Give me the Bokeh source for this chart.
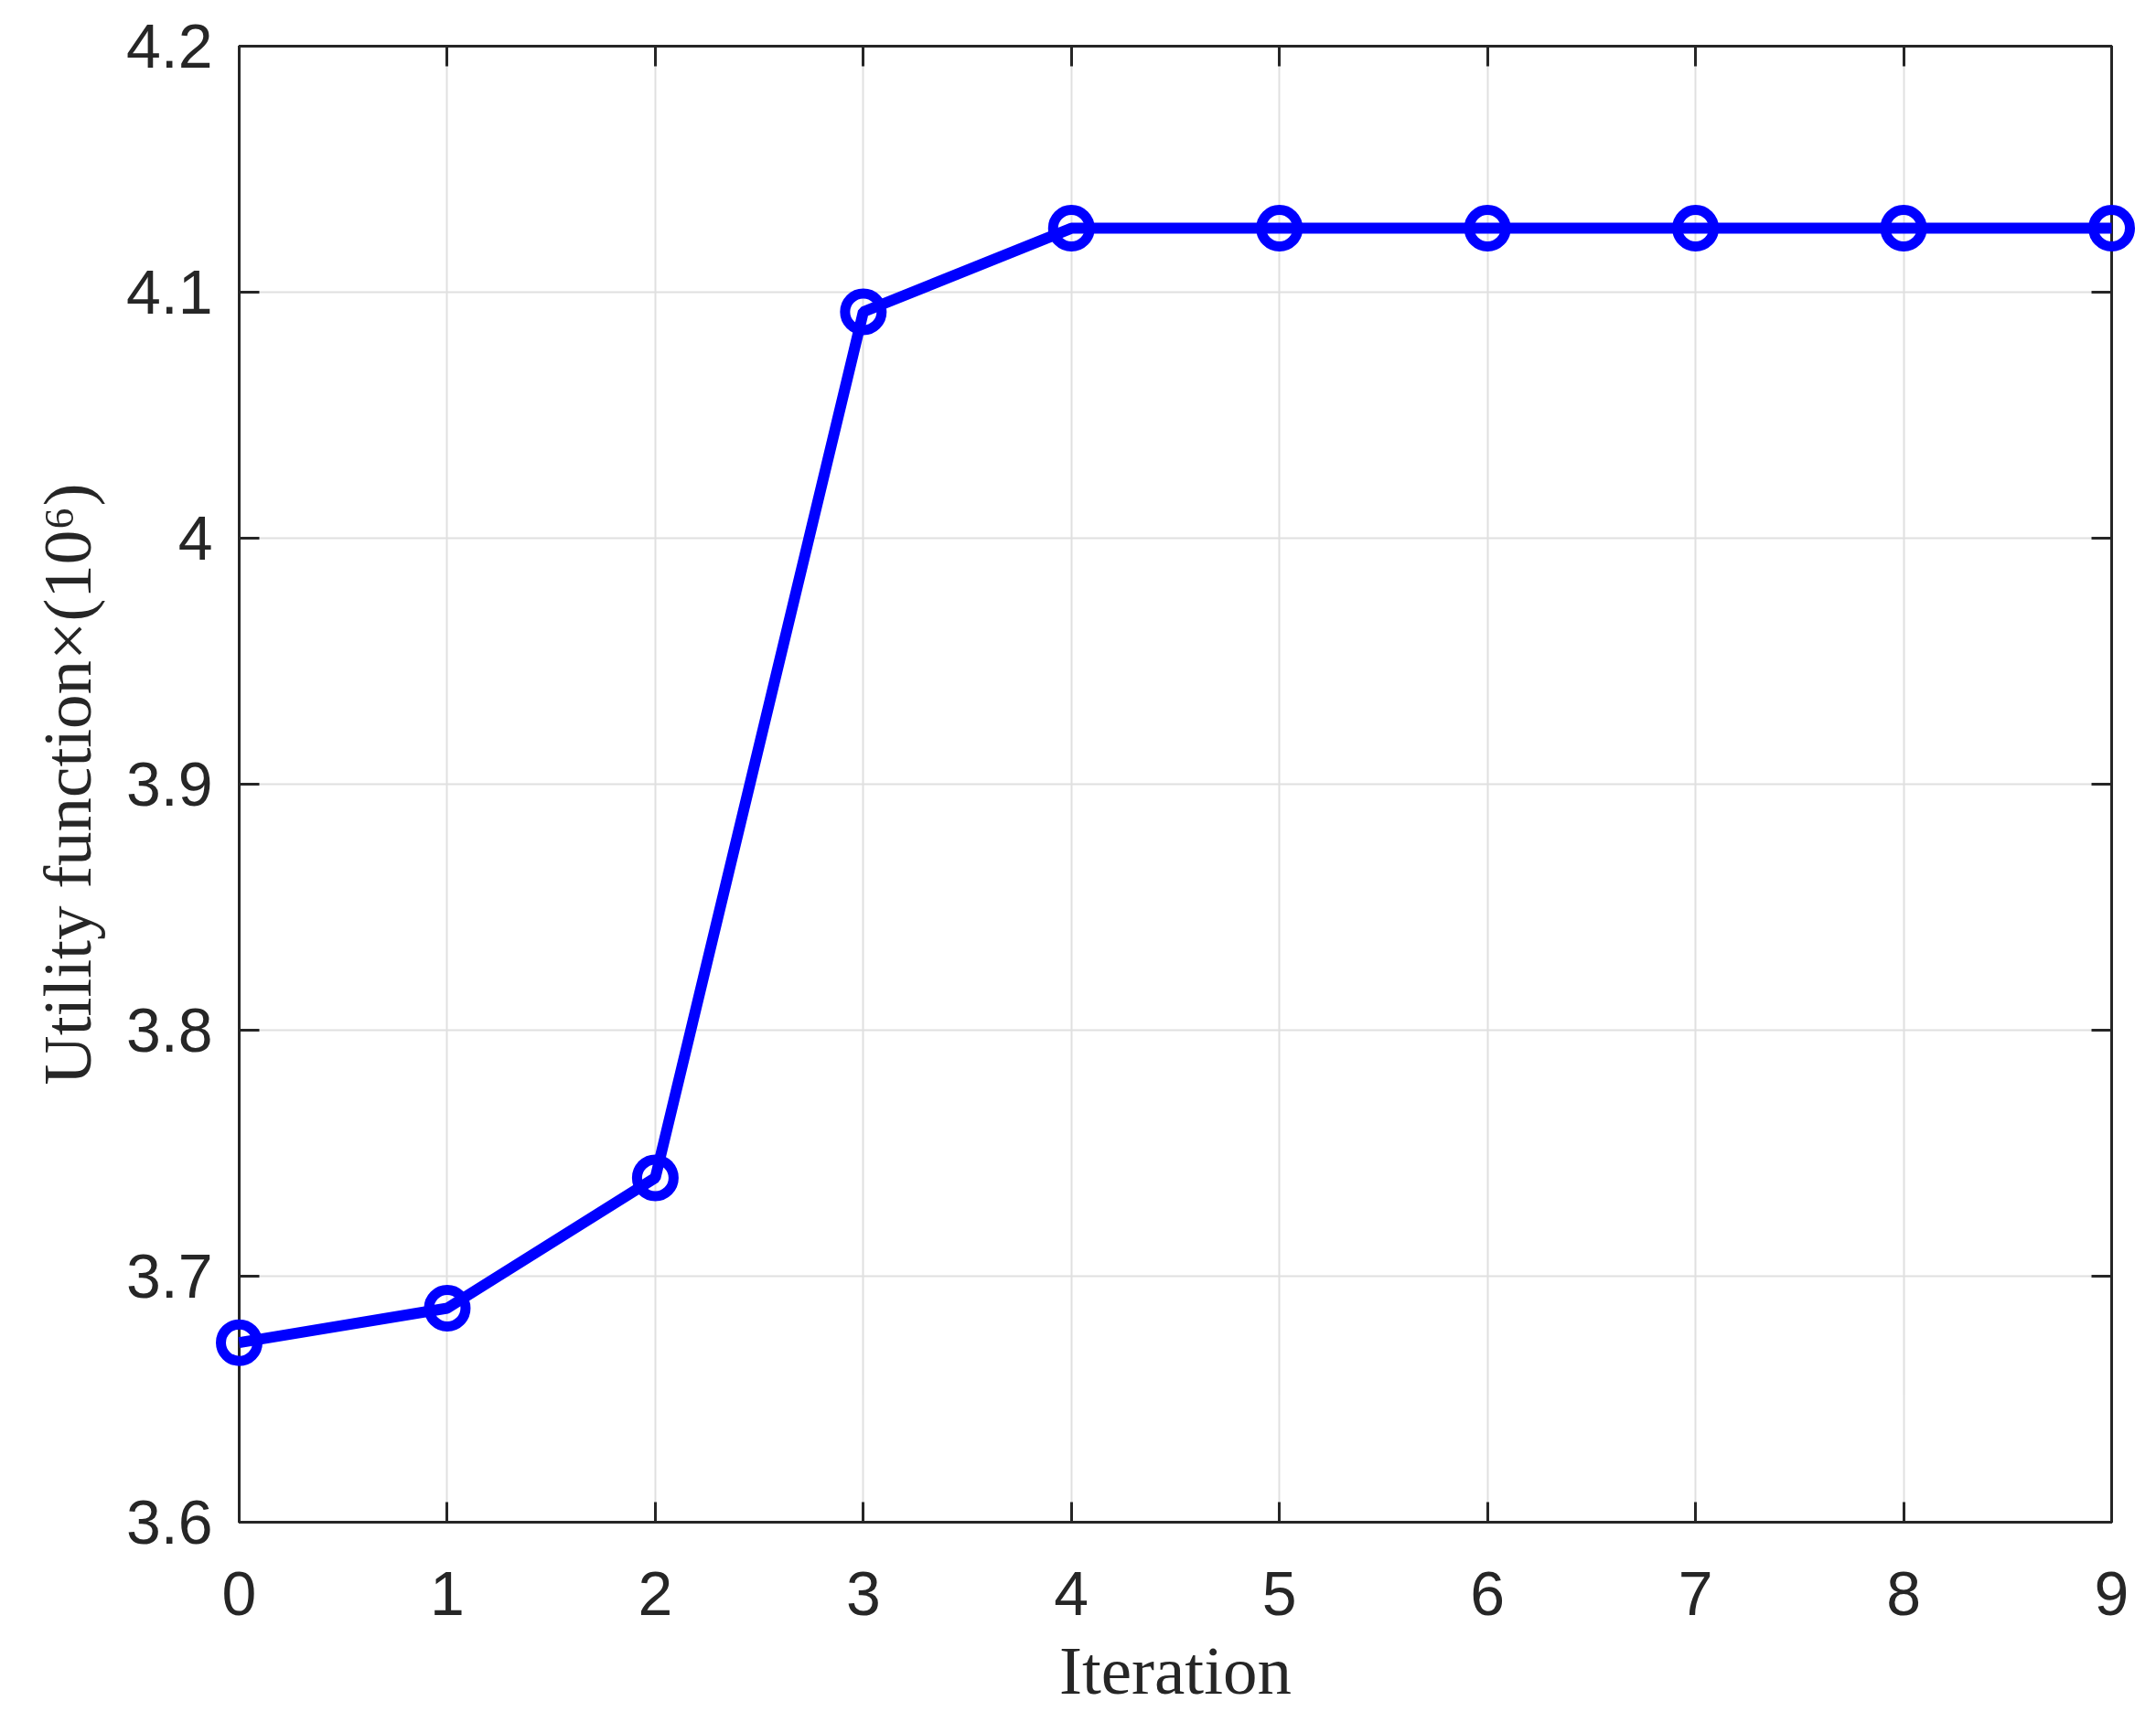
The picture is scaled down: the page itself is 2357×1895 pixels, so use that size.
from bokeh.plotting import figure
from bokeh.models import LinearAxis, FixedTicker, Range1d
from bokeh.embed import file_html
from bokeh.resources import INLINE

iterations = [0, 1, 2, 3, 4, 5, 6, 7, 8, 9]
utility = [3.673, 3.687, 3.740, 4.092, 4.126, 4.126, 4.126, 4.126, 4.126, 4.126]
x_ticks = [0, 1, 2, 3, 4, 5, 6, 7, 8, 9]
y_ticks = [3.6, 3.7, 3.8, 3.9, 4.0, 4.1, 4.2]
y_tick_labels = {3.6: "3.6", 3.7: "3.7", 3.8: "3.8", 3.9: "3.9", 4.0: "4", 4.1: "4.1", 4.2: "4.2"}

W, H = 2349, 1887
p = figure(width=W, height=H, output_backend="svg", toolbar_location=None,
           x_range=Range1d(0, 9), y_range=Range1d(3.6, 4.2),
           min_border_left=261, min_border_top=50, min_border_right=41, min_border_bottom=223,
           x_axis_label="Iteration", y_axis_label="Utility function×(10⁶)")
p.background_fill_color = "white"
p.border_fill_color = "white"
p.outline_line_color = "#262626"
p.outline_line_width = 3

frame_col = "#262626"
for ax in (p.xaxis[0], p.yaxis[0]):
    ax.axis_line_color = frame_col
    ax.axis_line_width = 3
    ax.major_tick_line_color = frame_col
    ax.major_tick_line_width = 3
    ax.major_tick_in = 22
    ax.major_tick_out = 0
    ax.minor_tick_line_color = None
    ax.major_label_text_font = "Liberation Sans"
    ax.major_label_text_font_size = "68px"
    ax.major_label_text_color = "#262626"
    ax.axis_label_text_font = "Liberation Serif"
    ax.axis_label_text_font_size = "75px"
    ax.axis_label_text_font_style = "normal"
    ax.axis_label_text_color = "#262626"

p.xaxis[0].ticker = FixedTicker(ticks=x_ticks)
p.yaxis[0].ticker = FixedTicker(ticks=y_ticks)
p.yaxis[0].major_label_overrides = y_tick_labels
p.xaxis[0].major_label_standoff = 54
p.xaxis[0].axis_label_standoff = 16
p.yaxis[0].major_label_standoff = 29
p.yaxis[0].axis_label_standoff = 20

# top and right axes (ticks only, no labels)
top = LinearAxis(ticker=FixedTicker(ticks=x_ticks))
right = LinearAxis(ticker=FixedTicker(ticks=y_ticks))
for ax in (top, right):
    ax.axis_line_color = frame_col
    ax.axis_line_width = 3
    ax.major_tick_line_color = frame_col
    ax.major_tick_line_width = 3
    ax.major_tick_in = 22
    ax.major_tick_out = 0
    ax.minor_tick_line_color = None
    ax.major_label_text_color = None
    ax.major_label_text_font_size = "1px"
    ax.major_label_standoff = 0
p.add_layout(top, "above")
p.add_layout(right, "right")

p.xgrid.ticker = FixedTicker(ticks=x_ticks)
p.ygrid.ticker = FixedTicker(ticks=y_ticks)
p.xgrid.grid_line_color = "#e0e0e0"
p.ygrid.grid_line_color = "#e0e0e0"
p.xgrid.grid_line_width = 2
p.ygrid.grid_line_width = 2

p.line(iterations, utility, line_color="#0000ff", line_width=12, level="overlay")
p.scatter(iterations, utility, marker="circle", size=40, fill_color=None,
          line_color="#0000ff", line_width=11, level="overlay")

open("out.html", "w").write(file_html(p, INLINE))
